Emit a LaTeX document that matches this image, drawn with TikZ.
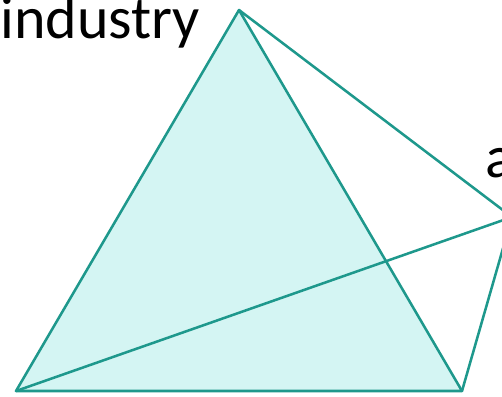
\documentclass[tikz,border=0pt]{standalone}
\usepackage{fontspec}
\setmainfont{Carlito}
\definecolor{pyrLine}{RGB}{30,152,140}
\definecolor{pyrFill}{RGB}{212,245,243}
\begin{document}
\begin{tikzpicture}
% pyramid sketch, pixel units
\def\pxsz{0.75pt}
\providecommand{\pyrLineWidth}{1.9pt}
\begin{scope}[x=\pxsz, y=-\pxsz, line cap=round, line join=round]
  % Frame of the picture
  \useasboundingbox (0,0) rectangle (502,396);
  \clip (0,0) rectangle (502,396);
  % Corners
  \coordinate (top) at (239,10);
  \coordinate (left) at (16,391);
  \coordinate (right) at (462,391);
  \coordinate (back) at (512,217);
  % Front face
  \fill[pyrFill] (top) -- (left) -- (right) -- cycle;
  % Edges
  \begin{scope}[draw=pyrLine, line width=\pyrLineWidth]
    \draw (top) -- (left) -- (right) -- cycle;
    \draw (top) -- (back);
    \draw (back) -- (right);
    \draw (left) -- (back);
  \end{scope}
  % Labels
  \node[anchor=base west, inner sep=0pt, font=\fontsize{45}{52}\selectfont] (industry) at (0,38) {industry};
  \node[anchor=base west, inner sep=0pt, font=\fontsize{45}{52}\selectfont] (other) at (485,177) {a};
\end{scope}
\end{tikzpicture}
\end{document}
